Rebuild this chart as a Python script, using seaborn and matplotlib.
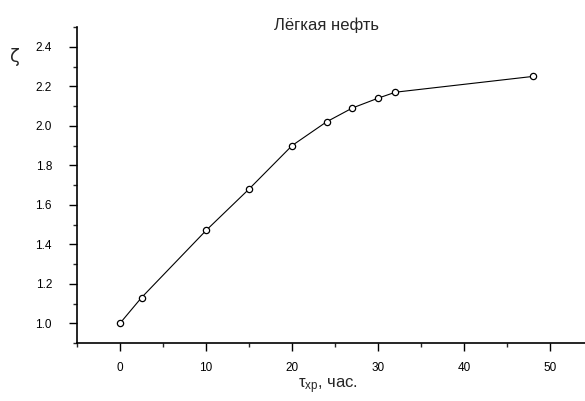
import matplotlib
matplotlib.use("Agg")
import matplotlib.pyplot as plt
import seaborn as sns
import pandas as pd
from matplotlib.ticker import MultipleLocator

t_hours = [0, 2.5, 10, 15, 20, 24, 27, 30, 32, 48]
zeta = [1.00, 1.13, 1.47, 1.68, 1.90, 2.02, 2.09, 2.14, 2.17, 2.25]
title = "Лёгкая нефть"
xlabel = r"$\tau_{\mathrm{хр}}$, час."
ylabel = "ζ"

sns.set_style("ticks")
plt.rcParams['font.family'] = ['Liberation Sans', 'DejaVu Sans']
plt.rcParams['mathtext.fontset'] = 'custom'
plt.rcParams['mathtext.rm'] = 'Liberation Sans'
plt.rcParams['mathtext.it'] = 'Liberation Sans'

df = pd.DataFrame({"t": t_hours, "z": zeta})

fig = plt.figure(figsize=(5.85, 4.01), dpi=100)
ax = fig.add_axes([0.1316, 0.1446, 0.868, 0.788])
sns.lineplot(data=df, x="t", y="z", ax=ax, color="black", linewidth=0.8,
             marker="o", markersize=4.5, markerfacecolor="white",
             markeredgecolor="black", markeredgewidth=0.9)

ax.set_xlim(-5, 54)
ax.set_ylim(0.9, 2.5)
ax.xaxis.set_major_locator(MultipleLocator(10))
ax.xaxis.set_minor_locator(MultipleLocator(5))
ax.yaxis.set_minor_locator(MultipleLocator(0.1))
ax.set_yticks([1.0, 1.2, 1.4, 1.6, 1.8, 2.0, 2.2, 2.4])
ax.yaxis.set_major_formatter(matplotlib.ticker.FormatStrFormatter('%.1f'))
ax.tick_params(which='major', direction='out', length=6, width=1, labelsize=8.5, colors='black')
ax.tick_params(which='minor', direction='out', length=3, width=1)
ax.tick_params(axis='x', pad=8)
ax.tick_params(axis='y', pad=12)
for s in ['left', 'bottom']:
    ax.spines[s].set_linewidth(1.2)
    ax.spines[s].set_color('black')
sns.despine(ax=ax)

ax.set_xlabel("")
ax.set_ylabel("")
fig.text(327 / 585, 1 - 25 / 401, title, ha='center', va='center', fontsize=12)
fig.text(328 / 585, 1 - 386 / 401, xlabel, ha='center', va='center', fontsize=12)
fig.text(15 / 585, 1 - 57 / 401, ylabel, ha='center', va='center', fontsize=13,
         family=['DejaVu Sans'])

fig.savefig("out.png", dpi=100)
